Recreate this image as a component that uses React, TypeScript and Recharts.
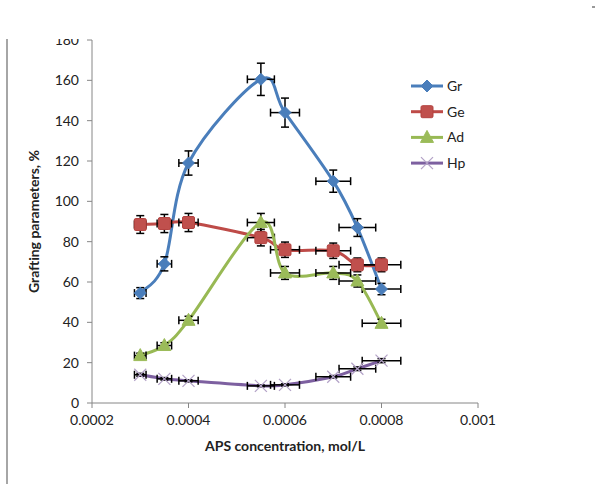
import React from 'react';
import { ComposedChart, Line, Scatter, XAxis, YAxis, ErrorBar, Legend, Label } from 'recharts';

// APS concentration, mol/L
const apsConcentration = [0.0003, 0.00035, 0.0004, 0.00055, 0.0006, 0.0007, 0.00075, 0.0008];
const xErrors = [0.000012, 0.000015, 0.00002, 0.000028, 0.00003, 0.000036, 0.000038, 0.00004];

const grValues = [54.5, 69, 119, 160.5, 144, 110, 87, 56.5];
const grErrors = [2.7, 3.5, 6, 8, 7.2, 5.5, 4.4, 2.8];
const geValues = [88.5, 89, 89.5, 82, 76, 75.5, 68.5, 68.5];
const geErrors = [4.4, 4.5, 4.5, 4.1, 3.8, 3.8, 3.4, 3.4];
const adValues = [23.5, 28.5, 41, 89.5, 64.5, 64.5, 60.5, 39.5];
const adErrors = [1.2, 1.4, 2, 4.5, 3.2, 3.2, 3, 2];
const hpValues = [14, 12, 11, 8.5, 9, 13, 17, 21];
const hpErrors = [0.7, 0.6, 0.5, 0.4, 0.5, 0.6, 0.9, 1];

const seriesNames = ['Gr', 'Ge', 'Ad', 'Hp'];
const xTicks = [0.0002, 0.0004, 0.0006, 0.0008, 0.001];
const yTicks = [0, 20, 40, 60, 80, 100, 120, 140, 160, 180];

const FONT = 'Lato, "Open Sans", sans-serif';

const build = (vals: number[], yErr: number[]) =>
  apsConcentration.map((x, i) => ({ x, y: vals[i], ex: xErrors[i], ey: yErr[i] }));

const series = [
  { name: seriesNames[0], data: build(grValues, grErrors), line: '#4A7EBB', marker: 'diamond', fill: '#4A7EBB' },
  { name: seriesNames[1], data: build(geValues, geErrors), line: '#BE4B48', marker: 'square', fill: '#C0504D' },
  { name: seriesNames[2], data: build(adValues, adErrors), line: '#98B954', marker: 'triangle', fill: '#9BBB59' },
  { name: seriesNames[3], data: build(hpValues, hpErrors), line: '#7D60A0', marker: 'x', fill: '#B3A2C7' },
];

// Excel-like smoothed line (uniform Catmull-Rom as cubic Bezier)
function excelSmooth(context: any) {
  let pts: number[][] = [];
  return {
    areaStart() {},
    areaEnd() {},
    lineStart() {
      pts = [];
    },
    lineEnd() {
      const n = pts.length;
      if (n === 0) return;
      context.moveTo(pts[0][0], pts[0][1]);
      for (let i = 0; i < n - 1; i++) {
        const p0 = pts[i === 0 ? 0 : i - 1];
        const p1 = pts[i];
        const p2 = pts[i + 1];
        const p3 = pts[i + 2 < n ? i + 2 : n - 1];
        context.bezierCurveTo(
          p1[0] + (p2[0] - p0[0]) / 6,
          p1[1] + (p2[1] - p0[1]) / 6,
          p2[0] - (p3[0] - p1[0]) / 6,
          p2[1] - (p3[1] - p1[1]) / 6,
          p2[0],
          p2[1]
        );
      }
    },
    point(x: number, y: number) {
      pts.push([+x, +y]);
    },
  };
}

function Marker({ kind, cx, cy, fill }: { kind: string; cx: number; cy: number; fill: string }) {
  if (cx == null || cy == null) return <g />;
  if (kind === 'diamond') {
    return (
      <polygon
        points={`${cx},${cy - 6} ${cx + 6},${cy} ${cx},${cy + 6} ${cx - 6},${cy}`}
        fill={fill}
        stroke={fill}
        strokeWidth={1}
      />
    );
  }
  if (kind === 'square') {
    return <rect x={cx - 6} y={cy - 6} width={12} height={12} rx={1.5} fill={fill} stroke="#B3423F" strokeWidth={1} />;
  }
  if (kind === 'triangle') {
    return (
      <polygon
        points={`${cx},${cy - 7} ${cx + 6.5},${cy + 5} ${cx - 6.5},${cy + 5}`}
        fill={fill}
        stroke={fill}
        strokeWidth={1}
      />
    );
  }
  return (
    <g stroke={fill} strokeWidth={1.2}>
      <line x1={cx - 6} y1={cy - 6} x2={cx + 6} y2={cy + 6} />
      <line x1={cx - 6} y1={cy + 6} x2={cx + 6} y2={cy - 6} />
    </g>
  );
}

const renderLegend = () => (
  <svg width={90} height={110} style={{ display: 'block', overflow: 'visible' }}>
    {series.map((s, i) => (
      <g key={s.name} transform={`translate(0, ${12 + i * 25.7})`}>
        <line x1={3} x2={35} y1={0} y2={0} stroke={s.line} strokeWidth={3} />
        <Marker kind={s.marker} cx={19} cy={0} fill={s.fill} />
        <text x={39} y={0} dy="0.35em" fontSize={14} fontFamily={FONT} fill="#222">
          {s.name}
        </text>
      </g>
    ))}
  </svg>
);

const renderYTitle = (props: any) => {
  const vb = props.viewBox || { y: 40, height: 363 };
  const cy = vb.y + vb.height / 2;
  const cx = 33;
  return (
    <text
      x={cx}
      y={cy}
      transform={`rotate(-90, ${cx}, ${cy})`}
      textAnchor="middle"
      dominantBaseline="central"
      fontFamily={FONT}
      fontSize={14}
      fontWeight="bold"
      fill="#222"
    >
      Grafting parameters, %
    </text>
  );
};

const renderXTitle = (props: any) => {
  const vb = props.viewBox || { x: 92, width: 386 };
  const cx = vb.x + vb.width / 2;
  return (
    <text x={cx} y={445} textAnchor="middle" dominantBaseline="central" fontFamily={FONT} fontSize={14} fontWeight="bold" fill="#222">
      APS concentration, mol/L
    </text>
  );
};

const tickStyle = { fontFamily: FONT, fontSize: 14, fill: '#222' };

export default function App() {
  return (
    <div style={{ position: 'absolute', left: 0, top: 0, width: 595, height: 484, background: '#fff', overflow: 'hidden' }}>
      <ComposedChart width={595} height={484} margin={{ top: 40, right: 117, bottom: 0, left: 0 }}>
        <XAxis
          dataKey="x"
          type="number"
          domain={[0.0002, 0.001]}
          ticks={xTicks}
          allowDataOverflow
          tickFormatter={(v: number) => String(v)}
          height={81}
          tickSize={5}
          tickMargin={7}
          stroke="#868686"
          tick={tickStyle}
        >
          <Label content={renderXTitle} />
        </XAxis>
        <YAxis
          type="number"
          domain={[0, 180]}
          ticks={yTicks}
          allowDataOverflow
          width={92}
          tickSize={5}
          tickMargin={8}
          stroke="#868686"
          tick={tickStyle}
        >
          <Label content={renderYTitle} />
        </YAxis>
        <Legend
          content={renderLegend}
          layout="horizontal"
          verticalAlign="middle"
          align="center"
          wrapperStyle={{ left: 408, top: 74, width: 90 }}
        />
        {series.map((s) => [
          <Line
            key={`line-${s.name}`}
            data={s.data}
            dataKey="y"
            name={s.name}
            type={excelSmooth as any}
            stroke={s.line}
            strokeWidth={3}
            dot={false}
            activeDot={false}
            isAnimationActive={false}
            legendType="none"
          />,
          <Scatter
            key={`pts-${s.name}`}
            data={s.data}
            dataKey="y"
            name={`${s.name} points`}
            isAnimationActive={false}
            legendType="none"
            shape={(p: any) => <Marker kind={s.marker} cx={p.cx} cy={p.cy} fill={s.fill} />}
          >
            <ErrorBar dataKey="ey" direction="y" width={4} stroke="#000" strokeWidth={1.5} isAnimationActive={false} />
            <ErrorBar dataKey="ex" direction="x" width={4} stroke="#000" strokeWidth={1.5} isAnimationActive={false} />
          </Scatter>,
        ])}
      </ComposedChart>
      <div style={{ position: 'absolute', left: 0, top: 0, width: 595, height: 39, background: '#fff' }} />
      <div style={{ position: 'absolute', left: 6, top: 39, width: 2, height: 445, background: '#a6a6a6' }} />
      <div style={{ position: 'absolute', left: 592, top: 6, width: 3, height: 2, background: '#999' }} />
    </div>
  );
}
